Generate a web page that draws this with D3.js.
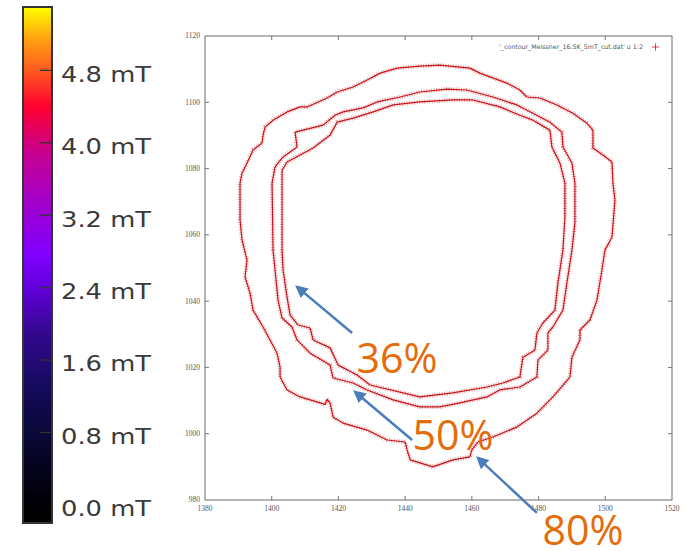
<!DOCTYPE html>
<html>
<head>
<meta charset="utf-8">
<script src="https://cdn.jsdelivr.net/npm/d3@7"></script>
<style>
  html, body { margin: 0; padding: 0; background: #fff; }
  svg { display: block; }
</style>
</head>
<body>
<svg id="chart" width="692" height="551"></svg>
<script>
// Meissner contour outlines (x, y in µm) at three flux levels
const contour80 = [
  [1390.5,1064.5],[1390.5,1075.6],[1391.1,1078.6],[1392.6,1081.7],[1394.4,1085.6],
  [1397.1,1087.7],[1397.4,1090.1],[1398.0,1092.5],[1400.4,1094.6],[1404.6,1097.1],[1408.5,1098.6],
  [1410.6,1098.6],[1416.6,1101.3],[1419.6,1103.1],[1424.4,1104.6],[1428.6,1106.7],[1432.5,1108.8],
  [1437.6,1110.3],[1444.4,1110.9],[1450.4,1111.2],[1459.4,1110.3],[1462.4,1108.8],[1470.5,1105.8],
  [1474.4,1103.7],[1476.5,1101.6],[1480.4,1101.3],[1485.5,1099.2],[1490.3,1096.7],[1494.5,1093.7],
  [1496.3,1091.6],[1496.3,1086.2],[1499.3,1084.1],[1502.0,1082.0],[1502.3,1075.6],[1502.9,1070.5],
  [1502.0,1059.3],[1499.9,1055.4],[1499.0,1049.4],[1497.5,1040.3],[1495.4,1034.3],[1492.4,1031.3],
  [1492.4,1028.3],[1490.0,1023.1],[1489.4,1017.1],[1484.3,1011.1],[1479.5,1006.2],[1473.5,1002.0],
  [1466.3,999.0],[1461.8,997.5],[1460.0,995.1],[1459.4,993.0],[1454.3,992.1],[1448.3,990.0],
  [1441.5,992.1],[1440.6,995.1],[1440.0,997.5],[1434.6,998.1],[1428.6,1001.1],[1421.4,1003.2],
  [1418.4,1005.0],[1417.5,1009.3],[1416.6,1010.4],[1416.0,1008.8],[1414.5,1009.3],[1408.5,1011.1],
  [1404.6,1013.2],[1402.5,1017.1],[1402.5,1020.1],[1401.6,1024.3],[1399.5,1028.3],[1397.4,1032.2],
  [1394.4,1037.3],[1393.5,1042.4],[1392.0,1047.3],[1392.6,1052.4],[1391.1,1058.5]
];
const contour50 = [
  [1400.4,1055.4],[1400.1,1075.6],[1401.0,1080.5],[1403.4,1083.5],[1407.6,1086.5],[1407.0,1091.0],
  [1410.6,1091.9],[1415.4,1093.1],[1419.0,1096.1],[1421.4,1097.1],[1427.4,1098.3],[1431.6,1100.1],
  [1438.5,1101.6],[1444.4,1103.1],[1452.5,1104.0],[1458.5,1103.7],[1466.3,1101.6],[1473.5,1099.2],
  [1478.3,1096.7],[1483.4,1094.0],[1487.0,1091.0],[1487.3,1086.5],[1490.0,1081.7],[1490.9,1075.6],
  [1490.9,1063.6],[1490.0,1055.4],[1488.5,1045.5],[1487.3,1037.3],[1484.3,1032.2],[1482.8,1030.4],
  [1482.8,1025.2],[1479.8,1022.2],[1479.5,1017.1],[1474.4,1014.1],[1468.4,1013.2],[1464.5,1011.1],
  [1456.4,1009.3],[1450.4,1008.1],[1444.4,1008.1],[1436.4,1010.2],[1428.6,1013.2],[1424.4,1015.3],
  [1418.4,1016.8],[1417.5,1020.7],[1411.5,1024.3],[1407.6,1028.3],[1406.1,1032.2],[1403.1,1034.9],
  [1401.9,1040.3],[1401.0,1049.4]
];
const contour36 = [
  [1403.1,1055.4],[1403.1,1079.5],[1404.6,1082.0],[1408.5,1084.1],[1412.4,1086.2],[1417.5,1090.1],
  [1419.6,1094.0],[1424.4,1095.2],[1430.4,1097.1],[1436.4,1099.2],[1444.4,1100.1],[1454.3,1100.7],
  [1460.3,1100.7],[1468.4,1098.6],[1474.4,1096.1],[1478.3,1094.6],[1483.4,1091.6],[1484.0,1086.5],
  [1486.4,1081.7],[1487.9,1075.6],[1487.9,1065.4],[1487.3,1055.4],[1485.8,1045.5],[1484.9,1037.3],
  [1481.3,1033.4],[1479.5,1030.4],[1478.9,1025.2],[1475.3,1023.1],[1474.4,1017.1],[1469.3,1015.3],
  [1464.5,1014.1],[1454.3,1012.3],[1444.4,1011.1],[1429.5,1014.7],[1425.6,1017.7],[1419.9,1020.7],
  [1417.5,1025.9],[1412.4,1028.3],[1411.5,1031.9],[1407.9,1032.8],[1405.5,1035.8],[1404.6,1041.2],
  [1403.4,1049.4]
];

const xTicks = [1380, 1400, 1420, 1440, 1460, 1480, 1500, 1520];
const yTicks = [980, 1000, 1020, 1040, 1060, 1080, 1100, 1120];
const colorTicks = [0.0, 0.8, 1.6, 2.4, 3.2, 4.0, 4.8];
const legendLabel = "'_contour_Meissner_16.5K_5mT_cut.dat' u 1:2";

// callouts: label, label anchor (data units), arrow tail and tip (data units)
const calloutLabels = ["36%", "50%", "80%"];
const calloutTextPos = [[1425.4, 1018.4], [1442.2, 995.1], [1481.2, 966.5]];
const calloutArrowFrom = [[1424.1, 1030.4], [1442.1, 998.1], [1479.5, 976.1]];
const calloutArrowTo = [[1407.6, 1044.3], [1425.0, 1012.6], [1461.8, 992.7]];

const svg = d3.select("#chart");

// ---------- colour bar ----------
const cbScale = d3.scaleLinear().domain([-0.2, 5.5]).range([523, 7]);
const cbStops = [
  [-0.2, "#000000"], [0.1, "#010008"], [0.8, "#0a0838"], [1.35, "#160a60"],
  [1.9, "#33088f"], [2.37, "#6000d8"], [2.75, "#8000ff"], [3.25, "#9c00d4"],
  [3.9, "#c8008e"], [4.4, "#ff0030"], [4.8, "#ff5a20"], [5.14, "#ffa010"], [5.5, "#ffff00"]
];
const defs = svg.append("defs");
const grad = defs.append("linearGradient").attr("id", "cbGrad")
  .attr("x1", 0).attr("y1", 1).attr("x2", 0).attr("y2", 0);
grad.selectAll("stop").data(cbStops).join("stop")
  .attr("offset", d => (d[0] + 0.2) / 5.7)
  .attr("stop-color", d => d[1]);

const cbX = 23, cbW = 29;
svg.append("rect")
  .attr("x", cbX).attr("y", cbScale(5.5))
  .attr("width", cbW).attr("height", cbScale(-0.2) - cbScale(5.5))
  .attr("fill", "url(#cbGrad)")
  .attr("stroke", "#333").attr("stroke-width", 2);

const cbG = svg.append("g");
cbG.selectAll("line").data(colorTicks.filter(d => d > 0)).join("line")
  .attr("x1", cbX + 17).attr("x2", cbX + cbW)
  .attr("y1", d => cbScale(d)).attr("y2", d => cbScale(d))
  .attr("stroke", "#333").attr("stroke-width", 1.3);
cbG.selectAll("text").data(colorTicks).join("text")
  .attr("x", 61)
  .attr("y", d => cbScale(d) + 4)
  .attr("dy", "0.35em")
  .attr("font-family", "DejaVu Sans, sans-serif")
  .attr("font-size", 21)
  .attr("fill", "#3a3a3a")
  .attr("textLength", 90)
  .attr("lengthAdjust", "spacingAndGlyphs")
  .text(d => d.toFixed(1) + " mT");

// ---------- contour plot ----------
const x = d3.scaleLinear().domain([1380, 1520]).range([205, 672]);
const y = d3.scaleLinear().domain([980, 1120]).range([500, 36]);

const plot = svg.append("g");
plot.append("rect")
  .attr("x", x(1380)).attr("y", y(1120))
  .attr("width", x(1520) - x(1380)).attr("height", y(980) - y(1120))
  .attr("fill", "#fff").attr("stroke", "#6a6a6a").attr("stroke-width", 1);

const tickLen = 4, tickCol = "#777";
// inward ticks on all four sides
plot.append("g").selectAll("line").data(xTicks.slice(1, -1)).join("line")
  .attr("x1", d => x(d)).attr("x2", d => x(d))
  .attr("y1", y(980)).attr("y2", y(980) - tickLen)
  .attr("stroke", tickCol);
plot.append("g").selectAll("line").data(xTicks.slice(1, -1)).join("line")
  .attr("x1", d => x(d)).attr("x2", d => x(d))
  .attr("y1", y(1120)).attr("y2", y(1120) + tickLen)
  .attr("stroke", tickCol);
plot.append("g").selectAll("line").data(yTicks.slice(1, -1)).join("line")
  .attr("x1", x(1380)).attr("x2", x(1380) + tickLen)
  .attr("y1", d => y(d)).attr("y2", d => y(d))
  .attr("stroke", tickCol);
plot.append("g").selectAll("line").data(yTicks.slice(1, -1)).join("line")
  .attr("x1", x(1520)).attr("x2", x(1520) - tickLen)
  .attr("y1", d => y(d)).attr("y2", d => y(d))
  .attr("stroke", tickCol);

const tickFont = "Liberation Serif, serif";
plot.append("g").selectAll("text").data(xTicks).join("text")
  .attr("x", d => x(d)).attr("y", y(980) + 11)
  .attr("text-anchor", "middle")
  .attr("font-family", tickFont).attr("font-size", 7.5).attr("fill", "#555")
  .text(d => d);
plot.append("g").selectAll("text").data(yTicks).join("text")
  .attr("x", x(1380) - 5).attr("y", d => y(d))
  .attr("dy", "0.32em")
  .attr("text-anchor", "end")
  .attr("font-family", tickFont).attr("font-size", 7.5).attr("fill", "#555")
  .text(d => d);

// legend entry
plot.append("text")
  .attr("x", 643).attr("y", 49)
  .attr("text-anchor", "end")
  .attr("font-family", "DejaVu Sans, sans-serif").attr("font-size", 6.3).attr("fill", "#555")
  .text(legendLabel);
plot.append("path")
  .attr("d", "M652,47h7M655.5,43.5v7")
  .attr("stroke", "#d42a2a").attr("stroke-width", 0.9);

// contours drawn as dense '+' point markers
const line = d3.line().x(d => x(d[0])).y(d => y(d[1])).curve(d3.curveLinearClosed);
const contours = [contour80, contour50, contour36];
const cg = plot.append("g");
contours.forEach(c => {
  cg.append("path").attr("d", line(c))
    .attr("fill", "none").attr("stroke", "#e06a6a")
    .attr("stroke-width", 4.2).attr("stroke-dasharray", "0.9 1.6")
    .attr("stroke-linejoin", "round").attr("opacity", 0.7);
  cg.append("path").attr("d", line(c))
    .attr("fill", "none").attr("stroke", "#c8141c")
    .attr("stroke-width", 1.2).attr("stroke-linejoin", "round");
});

// ---------- callouts ----------
defs.append("marker").attr("id", "arrowHead")
  .attr("viewBox", "0 0 10 10").attr("refX", 8).attr("refY", 5)
  .attr("markerWidth", 5).attr("markerHeight", 5)
  .attr("markerUnits", "strokeWidth").attr("orient", "auto")
  .append("path").attr("d", "M0,0L10,5L0,10Z").attr("fill", "#4a7ebb");

const callG = svg.append("g");
calloutLabels.forEach((lab, i) => {
  const a = calloutArrowFrom[i], b = calloutArrowTo[i];
  callG.append("line")
    .attr("x1", x(a[0])).attr("y1", y(a[1]))
    .attr("x2", x(b[0])).attr("y2", y(b[1]))
    .attr("stroke", "#4a7ebb").attr("stroke-width", 2.5)
    .attr("marker-end", "url(#arrowHead)");
  const p = calloutTextPos[i];
  callG.append("text")
    .attr("x", x(p[0])).attr("y", y(p[1]))
    .attr("font-family", "Open Sans, Liberation Sans, sans-serif")
    .attr("font-size", 42).attr("fill", "#e46c0a")
    .attr("textLength", 81).attr("lengthAdjust", "spacingAndGlyphs")
    .text(lab);
});
</script>
</body>
</html>
